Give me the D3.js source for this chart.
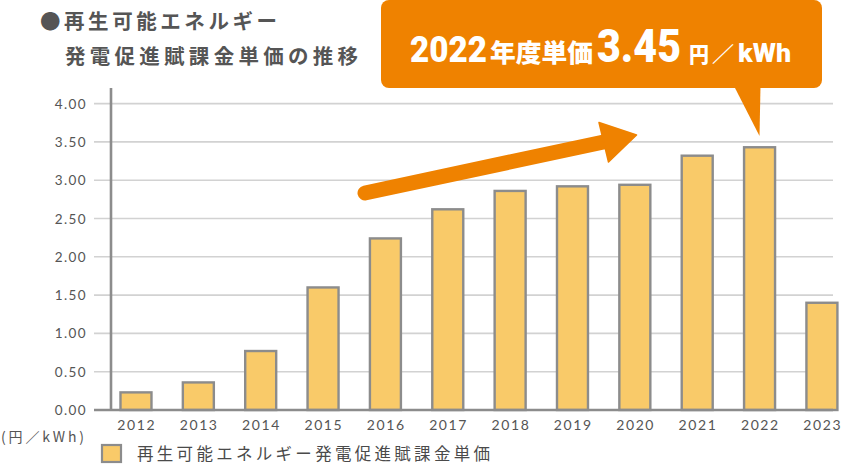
<!DOCTYPE html>
<html><head><meta charset="utf-8">
<script src="https://cdn.jsdelivr.net/npm/d3@7/dist/d3.min.js"></script>
<style>
html,body{margin:0;padding:0;background:#fff;}
svg{display:block;}
</style></head>
<body>
<svg id="chart" width="842" height="465"></svg>
<script>
const years = ["2012","2013","2014","2015","2016","2017","2018","2019","2020","2021","2022","2023"];
const prices = [0.23, 0.36, 0.77, 1.60, 2.24, 2.62, 2.86, 2.92, 2.94, 3.32, 3.43, 1.40];
const yTicks = [0, 0.5, 1, 1.5, 2, 2.5, 3, 3.5, 4];
const titleLines = ["●再生可能エネルギー", "発電促進賦課金単価の推移"];
const seriesName = "再生可能エネルギー発電促進賦課金単価";
const unitLabel = "(円／kWh)";
const calloutParts = ["2022", "年度単価", "3.45", "円", "／", "kWh"];

const svg = d3.select("#chart");
const ORANGE = "#EF8200", BAR = "#F9CA69", BARSTROKE = "#8C8C8C", GRID = "#D2D2D2";
const jp = "'Noto Sans CJK JP', sans-serif";
const num = "Lato, 'Open Sans', sans-serif";

const y = d3.scaleLinear().domain([0, 4]).range([410, 103.6]);
const x = d3.scaleBand().domain(years).range([104.8, 853.1]).paddingInner(0.503).paddingOuter(0.2515);

// gridlines
svg.append("g").selectAll("line").data(yTicks.filter(d => d > 0)).join("line")
  .attr("x1", 94).attr("x2", 833)
  .attr("y1", d => y(d)).attr("y2", d => y(d))
  .attr("stroke", GRID).attr("stroke-width", 1.6);

// y tick labels
svg.append("g").selectAll("text").data(yTicks).join("text")
  .attr("x", 87).attr("y", d => y(d))
  .attr("text-anchor", "end").attr("dominant-baseline", "central")
  .attr("font-family", num).attr("font-size", 13.5).attr("letter-spacing", "1.4px")
  .attr("fill", "#555").text(d3.format(".2f"));

// bars
svg.append("g").selectAll("rect").data(prices).join("rect")
  .attr("x", (d, i) => x(years[i])).attr("width", x.bandwidth())
  .attr("y", d => y(d)).attr("height", d => y(0) - y(d))
  .attr("fill", BAR).attr("stroke", BARSTROKE).attr("stroke-width", 2.4);

// axes lines
svg.append("line").attr("x1", 111).attr("x2", 111).attr("y1", 88).attr("y2", 411)
  .attr("stroke", BARSTROKE).attr("stroke-width", 2.6);
svg.append("line").attr("x1", 94).attr("x2", 833).attr("y1", y(0)).attr("y2", y(0))
  .attr("stroke", BARSTROKE).attr("stroke-width", 2.6);

// x labels
svg.append("g").selectAll("text").data(years).join("text")
  .attr("x", d => x(d) + x.bandwidth() / 2 + 0.8).attr("y", 429.5)
  .attr("text-anchor", "middle")
  .attr("font-family", num).attr("font-size", 14).attr("letter-spacing", "1.6px")
  .attr("fill", "#555").text(d => d);

// unit label
svg.append("text").attr("x", 1).attr("y", 442)
  .attr("font-family", jp).attr("font-size", 14).attr("fill", "#555")
  .attr("textLength", 83).attr("lengthAdjust", "spacing").text(unitLabel);

// legend
svg.append("rect").attr("x", 102).attr("y", 445).attr("width", 19).attr("height", 17)
  .attr("fill", BAR).attr("stroke", BARSTROKE).attr("stroke-width", 2.2);
svg.append("text").attr("x", 137).attr("y", 459.5)
  .attr("font-family", jp).attr("font-size", 16.5).attr("fill", "#4a4a4a")
  .attr("textLength", 353).attr("lengthAdjust", "spacing").text(seriesName);

// title
svg.append("text").attr("x", 40).attr("y", 28.5)
  .attr("font-family", jp).attr("font-weight", 700).attr("font-size", 20.5).attr("fill", "#555")
  .attr("textLength", 237).attr("lengthAdjust", "spacing").text(titleLines[0]);
svg.append("text").attr("x", 65).attr("y", 63.5)
  .attr("font-family", jp).attr("font-weight", 700).attr("font-size", 20.5).attr("fill", "#555")
  .attr("textLength", 293).attr("lengthAdjust", "spacing").text(titleLines[1]);

// arrow
svg.append("line").attr("x1", 365).attr("y1", 193).attr("x2", 606).attr("y2", 141.5)
  .attr("stroke", ORANGE).attr("stroke-width", 15).attr("stroke-linecap", "round");
svg.append("path").attr("d", "M599,122.5 L636.5,135 L608.5,162 Z").attr("fill", ORANGE)
  .attr("stroke", ORANGE).attr("stroke-width", 1.5).attr("stroke-linejoin", "round");

// callout
svg.append("rect").attr("x", 381).attr("y", 0).attr("width", 441).attr("height", 88).attr("rx", 8)
  .attr("fill", ORANGE);
svg.append("path").attr("d", "M734,86 L760.5,86 L759.5,136 Z").attr("fill", ORANGE);

const cSpec = [
  {x: 410, w: 77, fs: 37, f: "Roboto, sans-serif"},
  {x: 490, w: 103, fs: 25, f: jp},
  {x: 597, w: 84, fs: 46, f: "Roboto, sans-serif"},
  {x: 689, w: 20, fs: 21, f: jp},
  {x: 712, w: 22, fs: 21, f: jp},
  {x: 738, w: 53, fs: 26, f: "Roboto, sans-serif"}
];
svg.append("g").selectAll("text").data(calloutParts).join("text")
  .attr("x", (d, i) => cSpec[i].x).attr("y", 61.5)
  .attr("font-family", (d, i) => cSpec[i].f).attr("font-weight", 900)
  .attr("font-size", (d, i) => cSpec[i].fs).attr("fill", "#fff")
  .attr("textLength", (d, i) => cSpec[i].w).attr("lengthAdjust", "spacingAndGlyphs")
  .text(d => d);
</script>
</body></html>
